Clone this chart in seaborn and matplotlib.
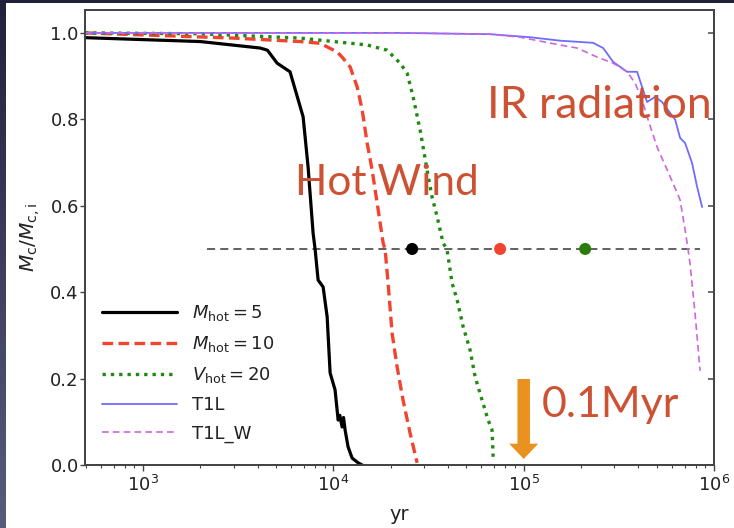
import numpy as np
import pandas as pd
import matplotlib
matplotlib.use("Agg")
import matplotlib.pyplot as plt
import seaborn as sns

# ---------------- data (years, M_c/M_c,i) ----------------
black_x = [495, 1995, 4120, 4500, 5060, 5915, 6930, 7360, 7820, 8020, 8310, 8830, 9270,
           9610, 10200, 10590, 10800, 11110, 11300, 11520, 11940, 12540, 13490, 14160]
black_y = [0.989, 0.98, 0.965, 0.96, 0.93, 0.91, 0.806, 0.69, 0.537, 0.498, 0.428, 0.412, 0.343,
           0.213, 0.174, 0.104, 0.115, 0.088, 0.11, 0.081, 0.042, 0.016, 0.005, 0.0]

red_x = [495, 2970, 6680, 8510, 10450, 11110, 12250, 13330, 14160, 15040, 15970, 16980,
         18250, 18700, 19380, 20340, 21610, 23230, 25280, 27540]
red_y = [1.0, 0.988, 0.98, 0.976, 0.956, 0.944, 0.921, 0.875, 0.822, 0.745, 0.683, 0.606,
         0.514, 0.498, 0.421, 0.305, 0.227, 0.15, 0.074, 0.005]

green_x = [495, 2000, 6680, 15040, 19150, 22400, 24380, 26230, 28560, 29600, 31050, 33000,
           35100, 37700, 39560, 42040, 44690, 48060, 52270, 55560, 60430, 65000, 68190, 69070]
green_y = [1.0, 0.998, 0.988, 0.972, 0.96, 0.93, 0.907, 0.852, 0.775, 0.736, 0.683, 0.62,
           0.574, 0.514, 0.498, 0.421, 0.382, 0.32, 0.266, 0.204, 0.15, 0.104, 0.081, 0.019]

blue_x = [495, 22400, 66560, 108100, 155400, 231700, 261400, 295000, 349500, 394400, 418800,
          444900, 490000, 533500, 625200, 663700, 705000, 766700, 815000, 866100]
blue_y = [1.0, 1.0, 0.997, 0.99, 0.982, 0.977, 0.965, 0.933, 0.91, 0.91, 0.875,
          0.84, 0.852, 0.84, 0.799, 0.757, 0.745, 0.699, 0.644, 0.597]

mag_x = [495, 22400, 66560, 95700, 155400, 190800, 243200, 295000, 349500, 384800, 418800,
         450500, 502200, 567300, 640300, 663700, 705000, 731000, 748700, 795400, 845300]
mag_y = [1.0, 1.0, 0.997, 0.99, 0.972, 0.965, 0.944, 0.93, 0.91, 0.884, 0.845,
         0.799, 0.736, 0.683, 0.63, 0.613, 0.544, 0.498, 0.465, 0.35, 0.218]

half_x = [2170, 845300]
half_y = [0.5, 0.5]

dot_x = [25930, 75170, 210400]
dot_y = [0.5, 0.5, 0.5]
dot_names = ["a", "b", "c"]

labels = [r"$M_\mathrm{hot}=5$", r"$M_\mathrm{hot}=10$", r"$V_\mathrm{hot}=20$", "T1L", "T1L_W"]
xticks = [1e3, 1e4, 1e5, 1e6]
xticklabels = [r"$10^{3}$", r"$10^{4}$", r"$10^{5}$", r"$10^{6}$"]
yticks = [0.0, 0.2, 0.4, 0.6, 0.8, 1.0]

# ---------------- figure ----------------
sns.set_theme(style="white")
plt.rcParams["font.family"] = ["DejaVu Sans"]
plt.rcParams["mathtext.fontset"] = "dejavusans"

W, H = 734, 528
fig = plt.figure(figsize=(W / 100, H / 100), dpi=100)
fig.patch.set_facecolor("white")

# dark slide strips
gax = fig.add_axes([0, 0, 6 / W, 1])
grad = np.linspace(0, 1, 256)[:, None]
c_top = np.array([0x22, 0x21, 0x3d]) / 255
c_bot = np.array([0x58, 0x5c, 0x7c]) / 255
img = (c_top[None, None, :] * (1 - grad[:, :, None]) + c_bot[None, None, :] * grad[:, :, None])
gax.imshow(img, aspect="auto", extent=[0, 1, 0, 1])
gax.set_axis_off()
tax = fig.add_axes([0, 1 - 3 / H, 1, 3 / H])
tax.set_facecolor("#20203a")
tax.set_xticks([]); tax.set_yticks([])
for s in tax.spines.values():
    s.set_visible(False)

ax = fig.add_axes([85 / W, 1 - 465 / H, (714 - 85) / W, (465 - 10) / H])
ax.set_facecolor("white")

def line(x, y, **kw):
    df = pd.DataFrame({"x": x, "y": y})
    sns.lineplot(data=df, x="x", y="y", ax=ax, sort=False, estimator=None, **kw)

line(black_x, black_y, color="black", linewidth=2.3, label=labels[0], zorder=3)
line(red_x, red_y, color="#f2432f", linewidth=2.4, linestyle=(0, (3.2, 1.6)), label=labels[1], zorder=3)
line(green_x, green_y, color="#1f8a10", linewidth=2.4, linestyle=(0, (1, 1.5)), label=labels[2], zorder=3)
line(blue_x, blue_y, color="#6f6cff", linewidth=1.3, label=labels[3], zorder=3)
line(mag_x, mag_y, color="#cc66dd", linewidth=1.2, linestyle=(0, (4, 2.5)), label=labels[4], zorder=3)
line(half_x, half_y, color="#555555", linewidth=1.3, linestyle=(0, (4.5, 2.8)), zorder=2)

sns.scatterplot(x=dot_x, y=dot_y, hue=dot_names, palette=["black", "#f2432f", "#2a7d0a"],
                s=75, edgecolor="none", legend=False, ax=ax, zorder=4)

ax.set_xscale("log")
ax.set_xlim(495, 1e6)
ax.set_ylim(0, 1.053)
ax.set_xticks(xticks)
ax.set_xticklabels(xticklabels)
ax.set_yticks(yticks)
ax.set_yticklabels([f"{v:.1f}" for v in yticks])
ax.xaxis.set_minor_locator(matplotlib.ticker.LogLocator(base=10, subs=np.arange(2, 10)))
ax.tick_params(axis="both", which="major", labelsize=13, labelcolor="#222222", color="#444444")
ax.tick_params(axis="x", which="major", direction="out", length=4, width=1, pad=3, bottom=True, top=False)
ax.tick_params(axis="x", which="minor", direction="out", length=2.5, width=0.8, bottom=True, top=False, color="#444444")
ax.tick_params(axis="y", which="major", direction="out", length=3.5, width=1, pad=1, left=True, right=False)
ax.set_xlabel("yr", fontsize=14, color="#222222", labelpad=7)
ax.set_ylabel(r"$M_\mathrm{c}/M_\mathrm{c,i}$", fontsize=14.5, color="#222222", labelpad=6)

# right inward ticks
ax_r = ax.twinx()
ax_r.set_ylim(ax.get_ylim())
ax_r.set_yticks(yticks)
ax_r.set_yticklabels([])
ax_r.tick_params(axis="y", direction="in", length=4.5, width=1.2, color="#555555", right=True)
ax_r.grid(False)

for a in (ax, ax_r):
    for s in a.spines.values():
        s.set_color("#444444")
        s.set_linewidth(1.3)

leg = ax.legend(loc="upper left", bbox_to_anchor=(0.027, 0.355), frameon=False, fontsize=13,
                handlelength=4.15, handletextpad=0.83, labelspacing=0.6, borderpad=0,
                borderaxespad=0)
for t in leg.get_texts():
    t.set_color("#222222")

# annotations
acol = "#cd5234"
ax.text(6300, 0.625, "Hot Wind", fontsize=30.5, color=acol, family="Lato", va="baseline", ha="left", zorder=5)
ax.text(64300, 0.803, "IR radiation", fontsize=32, color=acol, family="Lato", va="baseline", ha="left", zorder=5)
ax.text(125000, 0.111, "0.1Myr", fontsize=31, color=acol, family="Lato", va="baseline", ha="left", zorder=5)
ax.annotate("", xy=(1e5, 0.014), xytext=(1e5, 0.199),
            arrowprops=dict(width=9, headwidth=21, headlength=11, shrink=0,
                            facecolor="#ea921f", edgecolor="none"), zorder=5)

fig.savefig("out.png", dpi=100)
